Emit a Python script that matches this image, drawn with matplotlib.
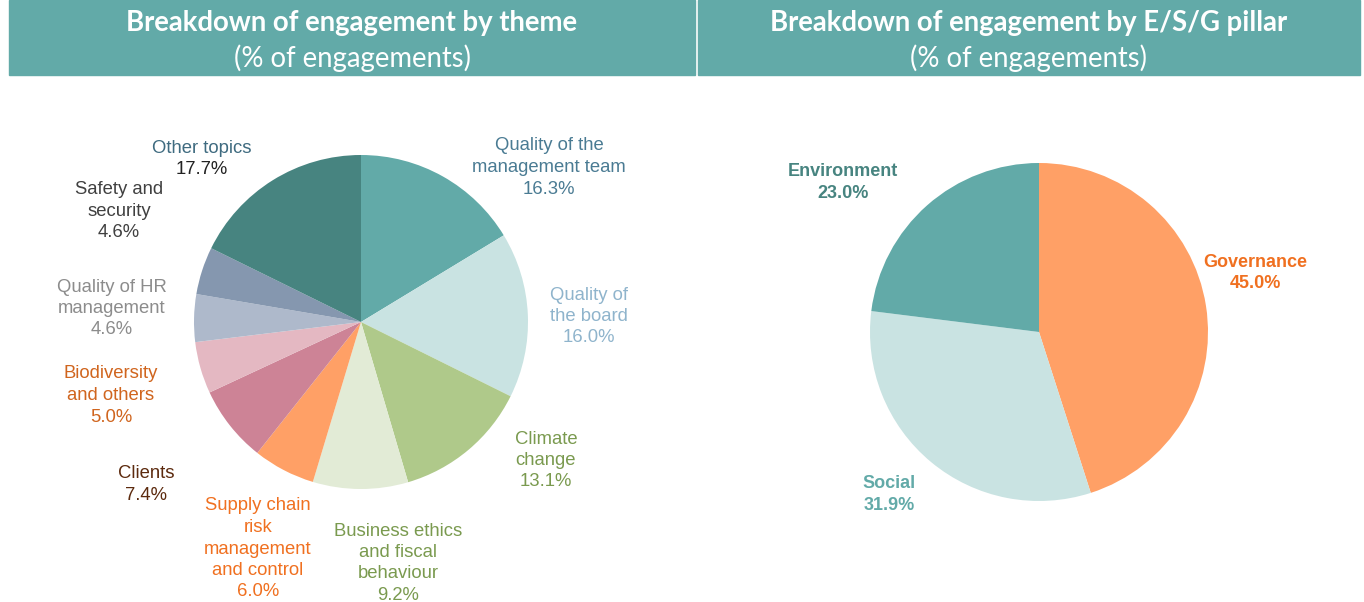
import matplotlib.pyplot as plt
from matplotlib.patches import Rectangle

# datos
temas = ["Quality of the\nmanagement team", "Quality of\nthe board", "Climate\nchange",
         "Business ethics\nand fiscal\nbehaviour", "Supply chain\nrisk\nmanagement\nand control",
         "Clients", "Biodiversity\nand others", "Quality of HR\nmanagement",
         "Safety and\nsecurity", "Other topics"]
temas_pct = [16.3, 16.0, 13.1, 9.2, 6.0, 7.4, 5.0, 4.6, 4.6, 17.7]

pilares = ["Governance", "Social", "Environment"]
pilares_pct = [45.0, 31.9, 23.0]

# estilos
col_temas = ["#62AAA8", "#C9E3E2", "#AFC98A", "#E2EBD6", "#FFA066",
             "#CD8396", "#E4B8C2", "#AEB9CB", "#8597AF", "#478480"]
txt_temas = ["#4A7B93", "#8FB4CC", "#7A9A4F", "#7A9A4F", "#F07020",
             "#5C2A0E", "#D0651E", "#8C8C8C", "#404040", "#3F6B80"]
# (x centro, y primera linea) en pixeles
pos_temas = [(549, 146), (589, 295), (546, 439), (398, 531), (258, 506),
             (146, 474), (111, 374), (112, 287), (119, 190), (202, 148)]

col_pilares = ["#FFA066", "#C9E3E2", "#62AAA8"]
txt_pilares = ["#F07020", "#62AAA8", "#478480"]
pos_pilares = [(1255, 262), (889, 484), (843, 172)]

W, H = 1364, 602
PASO = 21.5
fig = plt.figure(figsize=(W / 100, H / 100), dpi=100)
plt.rcParams['font.family'] = ['Liberation Sans', 'DejaVu Sans']


def px(x, y):
    return x / W, 1 - y / H


def cabecera(x0, x1, linea1, linea2):
    fig.patches.append(Rectangle(px(x0, 75), (x1 - x0) / W, 75 / H,
                                 transform=fig.transFigure, color="#62AAA8", zorder=0))
    cx = (x0 + x1) / 2
    fig.text(*px(cx, 23), linea1, ha='center', va='center', color='white',
             fontsize=19.8, fontweight='bold', family='Lato')
    fig.text(*px(cx, 58), linea2, ha='center', va='center', color='white',
             fontsize=19.8, family='Lato')


def tarta(cx, cy, r, valores, colores):
    x0, y0 = px(cx - r, cy + r)
    ax = fig.add_axes([x0, y0, 2 * r / W, 2 * r / H])
    ax.pie(valores, colors=colores, startangle=90, counterclock=False, radius=1,
           wedgeprops=dict(linewidth=0))
    ax.set_xlim(-1, 1)
    ax.set_ylim(-1, 1)
    ax.axis('off')
    return ax


def etiqueta(x, y, lineas, colores, **kw):
    for i, (t, c) in enumerate(zip(lineas, colores)):
        fig.text(*px(x, y + i * PASO), t, ha='center', va='center', color=c, **kw)


cabecera(9, 695, "Breakdown of engagement by theme", "(% of engagements)")
cabecera(698, 1360, "Breakdown of engagement by E/S/G pillar", "(% of engagements)")

tarta(361, 322, 167, temas_pct, col_temas)
tarta(1039, 332, 169, pilares_pct, col_pilares)

for nombre, v, c, (x, y) in zip(temas, temas_pct, txt_temas, pos_temas):
    lineas = nombre.split("\n") + [f"{v:.1f}%"]
    colores = [c] * len(lineas)
    if nombre == "Other topics":
        colores[-1] = "#222222"
    etiqueta(x, y, lineas, colores, fontsize=13.3)

for nombre, v, c, (x, y) in zip(pilares, pilares_pct, txt_pilares, pos_pilares):
    etiqueta(x, y, [nombre, f"{v:.1f}%"], [c, c], fontsize=13, fontweight='bold')

fig.savefig("out.png", dpi=100)
